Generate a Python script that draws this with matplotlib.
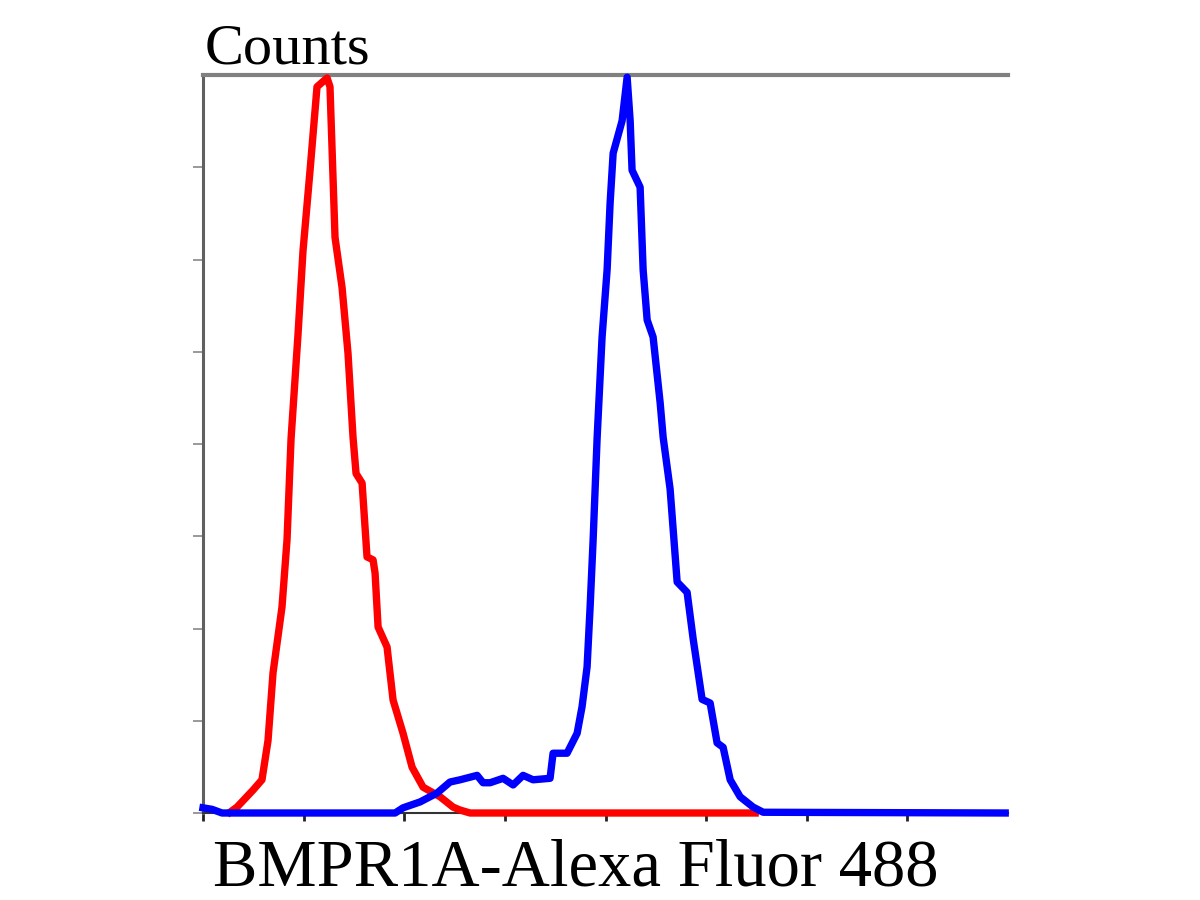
import matplotlib
matplotlib.use("Agg")
import matplotlib.pyplot as plt

# channel position (decades, 0-8) and counts (% of max)
red_x = [0.268, 0.338, 0.497, 0.586, 0.646, 0.696, 0.785, 0.835, 0.875, 0.944,
         0.994, 1.064, 1.133, 1.233, 1.262, 1.312, 1.382, 1.441, 1.491, 1.521,
         1.581, 1.630, 1.690, 1.710, 1.740, 1.829, 1.889, 1.988, 2.078, 2.187,
         2.356, 2.485, 2.555, 2.654, 5.487]
red_y = [0.1, 0.8, 3.1, 4.5, 9.8, 19.0, 27.9, 37.0, 50.7, 64.8,
         76.2, 87.1, 98.4, 99.6, 98.4, 78.0, 71.2, 62.3, 50.9, 46.0,
         44.7, 34.7, 34.3, 32.5, 25.2, 22.5, 15.3, 10.8, 6.2, 3.5,
         2.2, 0.8, 0.4, 0.0, 0.0]

blue_x = [0.0, 0.089, 0.189, 1.909, 1.988, 2.157, 2.326, 2.455, 2.555, 2.724,
          2.783, 2.853, 2.982, 3.082, 3.181, 3.280, 3.449, 3.479, 3.618, 3.718,
          3.767, 3.817, 3.847, 3.877, 3.917, 3.966, 4.016, 4.046, 4.076, 4.165,
          4.215, 4.245, 4.264, 4.344, 4.374, 4.414, 4.473, 4.543, 4.573, 4.642,
          4.712, 4.811, 4.871, 4.960, 5.040, 5.109, 5.169, 5.239, 5.338, 5.467,
          5.567, 7.972]
blue_y = [0.7, 0.5, 0.0, 0.0, 0.7, 1.5, 2.7, 4.2, 4.5, 5.1,
          4.1, 4.1, 4.7, 3.8, 5.1, 4.5, 4.7, 8.1, 8.1, 10.8,
          14.4, 19.8, 27.9, 37.0, 50.9, 64.5, 73.6, 82.7, 89.4, 93.8,
          99.7, 93.8, 87.1, 84.8, 73.6, 66.8, 64.5, 55.6, 50.9, 43.9,
          31.3, 29.9, 23.6, 15.4, 14.9, 9.5, 8.9, 4.5, 2.2, 0.8,
          0.1, 0.0]

x_ticks = [0, 1, 2, 3, 4, 5, 6, 7]
y_ticks = [0, 12.5, 25, 37.5, 50, 62.5, 75, 87.5]

fig = plt.figure(figsize=(12, 9), dpi=100)
ax = fig.add_axes([203 / 1200, 1 - 813 / 900, 805 / 1200, 738 / 900])

ax.plot(red_x, red_y, color="#ff0000", lw=5.3, clip_on=False, zorder=3)
ax.plot(blue_x, blue_y, color="#0000ff", lw=5.3, clip_on=False, zorder=4)

ax.set_xlim(0, 8)
ax.set_ylim(0, 100)
ax.set_xticks(x_ticks)
ax.set_yticks(y_ticks)
ax.set_xticklabels([])
ax.set_yticklabels([])
ax.tick_params(axis="x", direction="out", length=6, width=2, color="#222222")
ax.tick_params(axis="y", direction="out", length=7, width=1.2, color="#888888")

ax.spines["right"].set_visible(False)
ax.spines["top"].set_color("#808080")
ax.spines["top"].set_linewidth(3)
ax.spines["left"].set_color("#606060")
ax.spines["left"].set_linewidth(2.2)
ax.spines["bottom"].set_color("#333333")
ax.spines["bottom"].set_linewidth(1.5)

fig.text(205 / 1200, 1 - 63 / 900, "Counts", family="Liberation Serif",
         fontsize=42, va="baseline", ha="left")
fig.text(213 / 1200, 1 - 885 / 900, "BMPR1A-Alexa Fluor 488",
         family="Liberation Serif", fontsize=48, va="baseline", ha="left")

fig.savefig("out.png", dpi=100)
